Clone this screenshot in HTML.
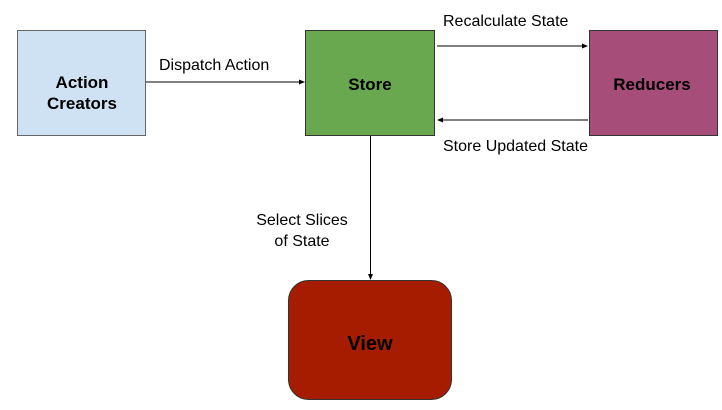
<!DOCTYPE html>
<html><head><style>
html,body{margin:0;padding:0;background:#fff;}
svg{display:block;font-family:"Liberation Sans",Arial,sans-serif;}
</style></head><body>
<svg width="722" height="410" viewBox="0 0 722 410">
<defs><marker id="a" markerWidth="6" markerHeight="6" refX="5" refY="3" orient="auto"><path d="M0,0.5 L6,3 L0,5.5z" fill="#000"/></marker></defs>
<rect x="17.5" y="30.5" width="128" height="105" fill="#cfe2f3" stroke="#666"/>
<rect x="305.5" y="30.5" width="129" height="105" fill="#6aa84f" stroke="#333"/>
<rect x="589.5" y="30.5" width="128" height="105" fill="#a64d79" stroke="#333"/>
<rect x="288.5" y="280.5" width="163" height="119" rx="20" fill="#a61c00" stroke="#333"/>
<g font-weight="bold" font-size="17" text-anchor="middle" fill="#000">
<text x="82" y="88">Action</text><text x="82" y="109">Creators</text>
<text x="370" y="90">Store</text>
<text x="652" y="90">Reducers</text>
<text x="370" y="350" font-size="20">View</text>
</g>
<g stroke="#000" stroke-width="1" fill="none">
<line x1="146" y1="82" x2="304" y2="82" marker-end="url(#a)"/>
<line x1="437" y1="46" x2="587" y2="46" marker-end="url(#a)"/>
<line x1="588" y1="120" x2="438" y2="120" marker-end="url(#a)"/>
<line x1="370.5" y1="136" x2="370.5" y2="279" marker-end="url(#a)"/>
</g>
<g font-size="16" fill="#000">
<text x="159" y="70">Dispatch Action</text>
<text x="443" y="26">Recalculate State</text>
<text x="443" y="151">Store Updated State</text>
<text x="302" y="225" text-anchor="middle">Select Slices</text>
<text x="302" y="246" text-anchor="middle">of State</text>
</g>
</svg>
</body></html>
